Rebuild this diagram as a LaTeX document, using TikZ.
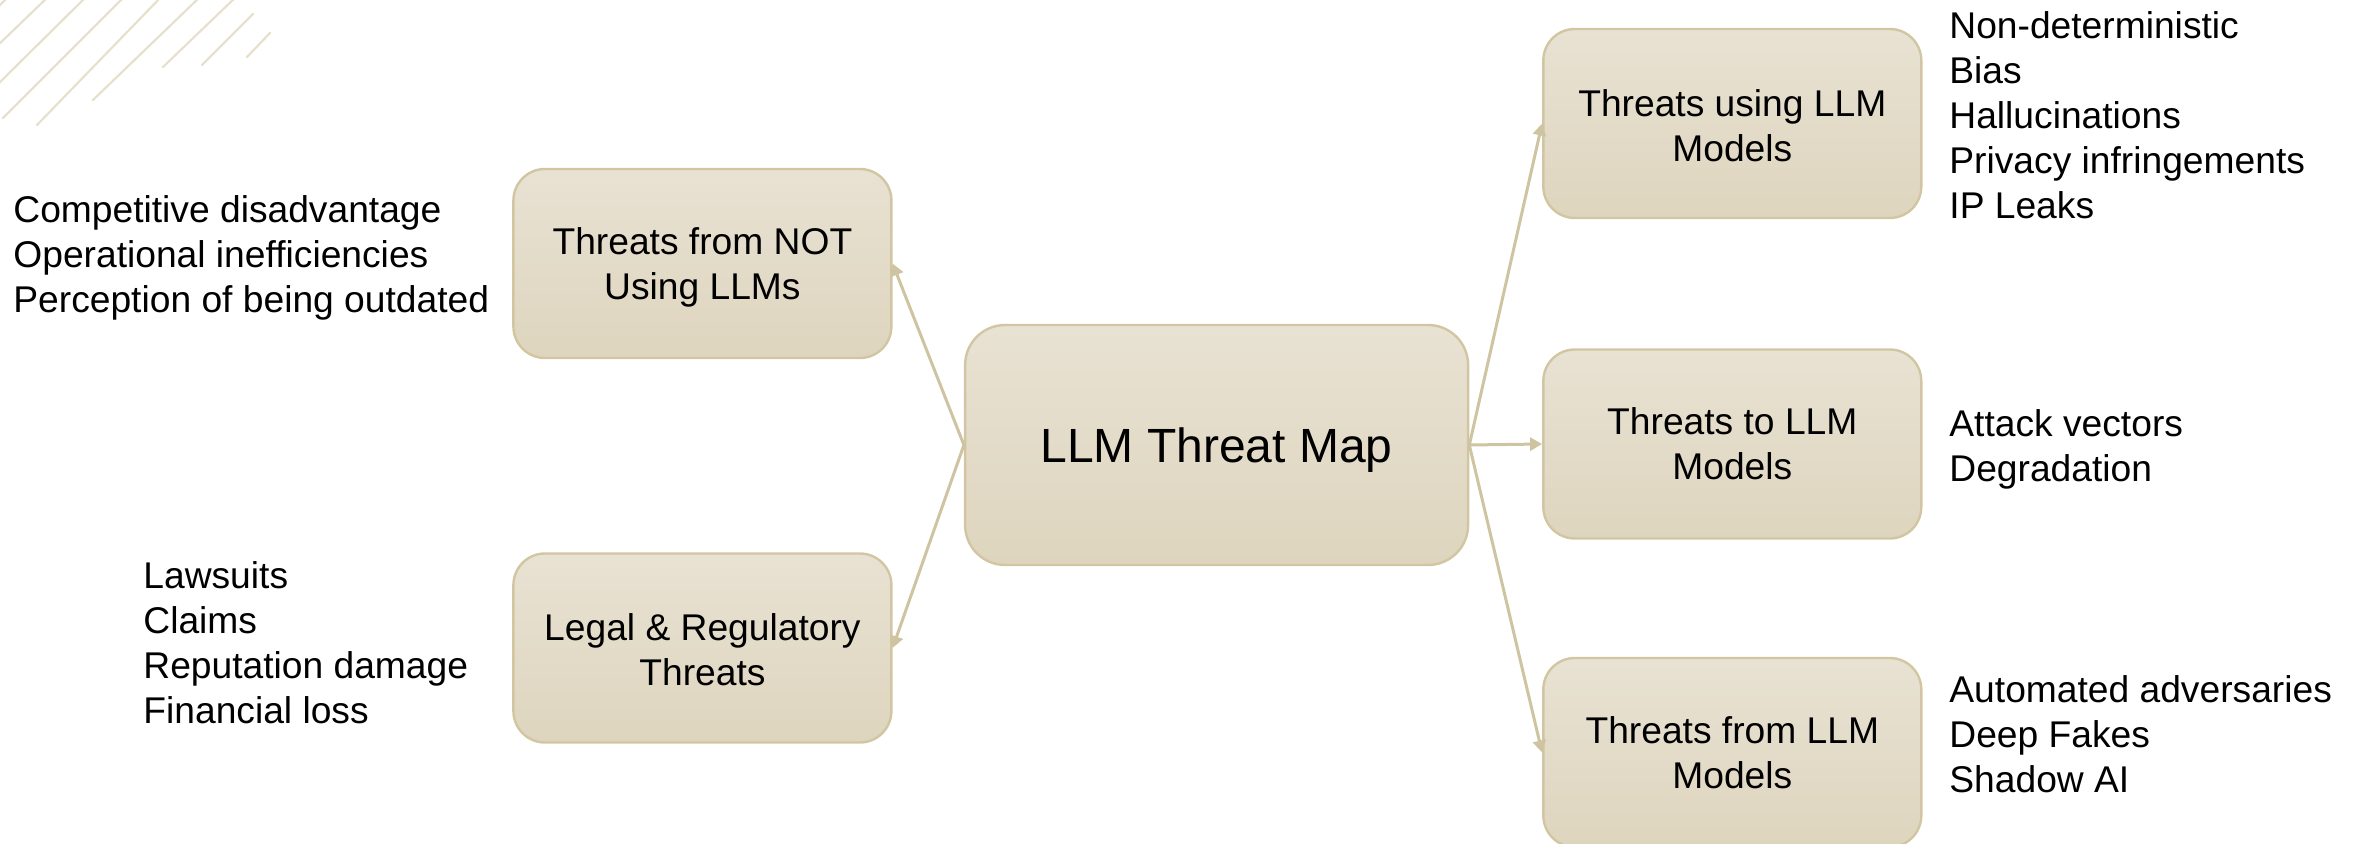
\documentclass[tikz,border=0pt]{standalone}
\usepackage{fontspec}
\setmainfont{Liberation Sans}
\usetikzlibrary{arrows.meta}

\definecolor{boxtop}{RGB}{232,226,211}
\definecolor{boxbot}{RGB}{222,213,190}
\definecolor{boxline}{RGB}{210,198,162}
\definecolor{linkc}{RGB}{207,196,161}
\definecolor{decoc}{RGB}{230,224,205}

\begin{document}
\begin{tikzpicture}[x=0.5pt,y=-0.5pt,
  topic/.style={draw=boxline, line width=1.2pt, top color=boxtop, bottom color=boxbot,
    rounded corners=15.75pt, minimum width=189pt, minimum height=94.5pt,
    align=center, inner sep=0pt, font=\fontsize{18.6}{22.5}\selectfont},
  hub/.style={draw=boxline, line width=1.2pt, top color=boxtop, bottom color=boxbot,
    rounded corners=20pt, minimum width=251.5pt, minimum height=120pt,
    inner sep=0pt, text depth=0pt, font=\fontsize{24}{28.8}\selectfont},
  items/.style={anchor=north west, align=left, inner sep=0pt,
    font=\fontsize{18.6}{22.5}\selectfont},
  link/.style={draw=linkc, line width=1.5pt, -{Triangle[length=6pt,width=6.5pt]}},
  deco/.style={draw=decoc, line width=1.1pt, line cap=round}]

\useasboundingbox (0,0) rectangle (2361,844);

% hatched corner ornament
\draw[deco] (-5,10) -- (10,-5);
\draw[deco] (-5,48) -- (50,-5);
\draw[deco] (-5,87) -- (88,-5);
\draw[deco] (3,118) -- (126,-5);
\draw[deco] (37,125) -- (163,-5);
\draw[deco] (93,100) -- (202,-5);
\draw[deco] (163,67) -- (238,-5);
\draw[deco] (202,65) -- (253,14);
\draw[deco] (247,57) -- (270,33);

% central topic and its branches
\node[hub]   (map)    at (1216.6,445)   {LLM Threat Map};
\node[topic] (notuse) at (702.4,263.5)  {\rule{0pt}{17.6pt}Threats from NOT\\Using LLMs};
\node[topic] (legal)  at (702.4,648)    {\rule{0pt}{15.6pt}Legal \& Regulatory\\Threats};
\node[topic] (using)  at (1732.3,123.5) {\rule{0pt}{15.6pt}Threats using LLM\\Models};
\node[topic] (to)     at (1732.3,444)   {Threats to LLM\\Models};
\node[topic] (from)   at (1732.3,752.5) {Threats from LLM\\Models};

% detail lists
\node[items] (notuseitems) at (13,195)   {Competitive disadvantage\\Operational inefficiencies\\Perception of being outdated};
\node[items] (legalitems)  at (143,561)  {Lawsuits\\Claims\\Reputation damage\\Financial loss};
\node[items] (usingitems)  at (1949,11)  {Non-deterministic\\Bias\\Hallucinations\\Privacy infringements\\IP Leaks};
\node[items] (toitems)     at (1949,409) {Attack vectors\\Degradation};
\node[items] (fromitems)   at (1949,675) {Automated adversaries\\Deep Fakes\\Shadow AI};

% connectors
\draw[link] (map.west) -- (notuse.east);
\draw[link] (map.west) -- (legal.east);
\draw[link] (map.east) -- (using.west);
\draw[link] (map.east) -- (to.west);
\draw[link] (map.east) -- (from.west);
\end{tikzpicture}
\end{document}
